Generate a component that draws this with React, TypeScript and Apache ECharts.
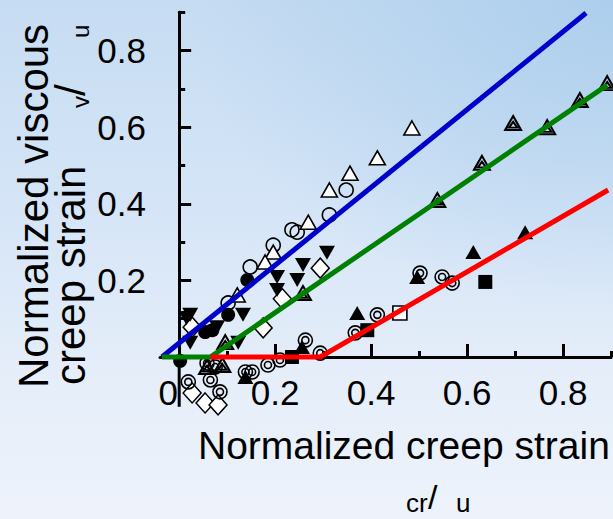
import React, { useEffect, useRef } from "react";
import * as echarts from "echarts";

// ---- data (normalized creep strain x, normalized viscous creep strain y) ----
const openTriangles = [
  [0.485, 0.598], [0.413, 0.52], [0.356, 0.48], [0.313, 0.436], [0.269, 0.352],
  [0.196, 0.274], [0.179, 0.248], [0.121, 0.162],
];
const openCircles = [
  [0.348, 0.436], [0.313, 0.371], [0.235, 0.332], [0.246, 0.326], [0.196, 0.292],
  [0.148, 0.235], [0.102, 0.141],
];
const filledCircles = [
  [0.142, 0.201], [0.102, 0.11], [0.069, 0.07], [0.054, 0.065], [0.002, -0.01],
];
const filledDownTriangles = [
  [0.308, 0.272], [0.258, 0.24], [0.204, 0.209], [0.246, 0.201], [0.204, 0.175],
  [0.133, 0.11], [0.023, 0.11], [0.015, 0.102], [0.023, 0.037], [0.079, 0.078],
  [0.123, 0.037],
];
const openDiamonds = [
  [0.294, 0.232], [0.215, 0.152], [0.175, 0.076], [0.027, 0.078], [0.027, -0.094],
  [0.054, -0.12], [0.081, -0.125],
];
const filledTriangles = [
  [0.371, 0.115], [0.613, 0.274], [0.496, 0.209], [0.721, 0.326], [0.256, 0.026],
  [0.138, -0.052],
];
const filledSquares = [[0.638, 0.196], [0.392, 0.07], [0.235, 0.0]];
const openSquares = [[0.46, 0.115]];
const doubleCircles = [
  [0.263, 0.044], [0.413, 0.11], [0.367, 0.063], [0.294, 0.01], [0.21, -0.008],
  [0.185, -0.021], [0.502, 0.219], [0.548, 0.209], [0.569, 0.193], [0.019, -0.065],
  [0.065, -0.06], [0.085, -0.091], [0.138, -0.039], [0.152, -0.039], [0.058, -0.016],
  [0.075, -0.026],
];
const doubleTriangles = [
  [0.696, 0.611], [0.767, 0.6], [0.835, 0.671], [0.892, 0.715], [0.631, 0.507],
  [0.538, 0.41], [0.258, 0.167], [0.096, 0.039], [0.058, -0.026], [0.09, -0.021],
];

const blueLine = [[-0.036, 0], [0.848, 0.898]];
const greenLine = [[-0.036, 0], [0.065, 0], [0.892, 0.71]];
const redLine = [[0.065, 0], [0.294, 0], [0.894, 0.436]];
// y axis continues below zero in the reference
const yAxisTail = [[0, 0], [0, -0.13]];

const xLabelValues = [0, 0.2, 0.4, 0.6, 0.8];
const xMajorTicks = [0.2, 0.4, 0.6, 0.8];
const xMinorTicks = [0.1, 0.3, 0.5, 0.7, 0.9];
const yLabelValues = [0.2, 0.4, 0.6, 0.8];
const yMajorTicks = [0.2, 0.4, 0.6, 0.8];
const yMinorTicks = [0.1, 0.3, 0.5, 0.7, 0.9];

const FONT = '"Liberation Sans", Arial, Helvetica, sans-serif';

const DOUBLE_CIRCLE =
  "path://M0,10A10,10,0,1,1,20,10A10,10,0,1,1,0,10ZM5,10A5,5,0,1,1,15,10A5,5,0,1,1,5,10Z";
const DOUBLE_TRIANGLE = "path://M10,0L20,18L0,18ZM10,7.5L15.2,15L4.8,15Z";

function scatter(data: number[][], symbol: string, size: any, fill: string, border: number, rotate = 0) {
  return {
    type: "scatter",
    data,
    symbol,
    symbolSize: size,
    symbolRotate: rotate,
    clip: false,
    silent: true,
    z: 3,
    itemStyle: {
      color: fill,
      borderColor: "#000",
      borderWidth: border,
      opacity: 1,
    },
  };
}

function line(data: number[][], color: string, width = 5, z = 5) {
  return {
    type: "line",
    data,
    showSymbol: false,
    symbol: "none",
    silent: true,
    clip: false,
    z,
    lineStyle: { color, width, cap: "butt", join: "miter" },
  };
}

const axisLineStyle = { color: "#000", width: 3 };

export default function App() {
  const ref = useRef<HTMLDivElement>(null);
  useEffect(() => {
    if (!ref.current) return;
    const chart = echarts.init(ref.current, null, { renderer: "svg" });
    const txt = (text: string, x: number, y: number, size: number, rot = 0) => ({
      type: "text",
      x,
      y,
      rotation: rot,
      silent: true,
      style: {
        text,
        fontSize: size,
        fontFamily: FONT,
        fill: "#000",
        align: "left",
        verticalAlign: "middle",
      },
    });
    const R = Math.PI / 2;
    const xBase = {
      type: "value",
      min: -0.04,
      max: 0.9,
      position: "bottom",
      splitLine: { show: false },
    };
    const yBase = {
      type: "value",
      min: 0,
      max: 0.9,
      position: "left",
      splitLine: { show: false },
    };
    chart.setOption({
      animation: false,
      backgroundColor: "transparent",
      grid: { left: 160, right: 2, top: 12.3, bottom: 162, containLabel: false },
      xAxis: [
        {
          ...xBase,
          axisLine: { show: true, onZero: false, lineStyle: axisLineStyle },
          axisTick: { show: true, inside: true, length: 13, customValues: xMajorTicks, lineStyle: axisLineStyle },
          axisLabel: {
            show: true,
            customValues: xLabelValues,
            margin: 18,
            color: "#000",
            fontSize: 35,
            fontFamily: FONT,
            formatter: (v: number) => (Math.abs(v) < 1e-9 ? "{z|0}" : String(+v.toFixed(1))),
            rich: { z: { fontSize: 35, fontFamily: FONT, color: "#000", padding: [0, 22, 0, 0] } },
          },
        },
        {
          ...xBase,
          axisLine: { show: false, onZero: false },
          axisTick: { show: true, inside: true, length: 6, customValues: xMinorTicks, lineStyle: axisLineStyle },
          axisLabel: { show: false },
        },
      ],
      yAxis: [
        {
          ...yBase,
          axisLine: { show: true, onZero: true, onZeroAxisIndex: 0, lineStyle: axisLineStyle },
          axisTick: { show: true, inside: true, length: 12, customValues: yMajorTicks, lineStyle: axisLineStyle },
          axisLabel: {
            show: true,
            customValues: yLabelValues,
            margin: 14,
            color: "#000",
            fontSize: 35,
            fontFamily: FONT,
            formatter: (v: number) => String(+v.toFixed(1)),
          },
        },
        {
          ...yBase,
          axisLine: { show: true, onZero: true, onZeroAxisIndex: 0, lineStyle: axisLineStyle },
          axisTick: { show: true, inside: true, length: 6, customValues: yMinorTicks, lineStyle: axisLineStyle },
          axisLabel: { show: false },
        },
      ],
      series: [
        line(yAxisTail, "#000", 3, 1),
        scatter(openDiamonds, "diamond", [18, 20], "#ffffff", 1.5),
        scatter(doubleCircles, DOUBLE_CIRCLE, 14, "rgba(0,0,0,0)", 1.6),
        scatter(openCircles, "circle", 14, "rgba(0,0,0,0)", 1.6),
        scatter(openTriangles, "triangle", [16, 14], "#ffffff", 1.6),
        scatter(doubleTriangles, DOUBLE_TRIANGLE, [16, 14], "rgba(0,0,0,0)", 2),
        scatter(openSquares, "rect", 14, "#ffffff", 1.6),
        scatter(filledCircles, "circle", 14, "#000000", 0),
        scatter(filledDownTriangles, "triangle", [16, 14], "#000000", 0, 180),
        scatter(filledTriangles, "triangle", [16, 14], "#000000", 0),
        scatter(filledSquares, "rect", 14, "#000000", 0),
        line(blueLine, "#0000cc"),
        line(greenLine, "#008000"),
        line(redLine, "#ff0000"),
      ],
      graphic: [
        txt("Normalized creep strain", 198, 445, 39),
        txt("cr", 406, 503, 26),
        txt("/", 428, 497, 34),
        txt("u", 456, 503, 26),
        txt("Normalized viscous", 33, 388, 42, R),
        txt("creep strain", 70, 385, 42, R),
        txt("v", 80, 108, 24, R),
        txt("/", 70, 96, 42, R),
        txt("u", 80, 38, 24, R),
      ],
    });
    return () => chart.dispose();
  }, []);
  return (
    <div
      ref={ref}
      style={{
        position: "fixed",
        left: 0,
        top: 0,
        width: 613,
        height: 519,
        background:
          "radial-gradient(ellipse 70% 60% at 100% 0%, rgba(170,205,236,0.9), rgba(170,205,236,0) 100%), linear-gradient(to bottom, #c6dcf2 0%, #d5e5f7 40%, #e4edf9 70%, #eef3fb 100%)",
      }}
    />
  );
}
